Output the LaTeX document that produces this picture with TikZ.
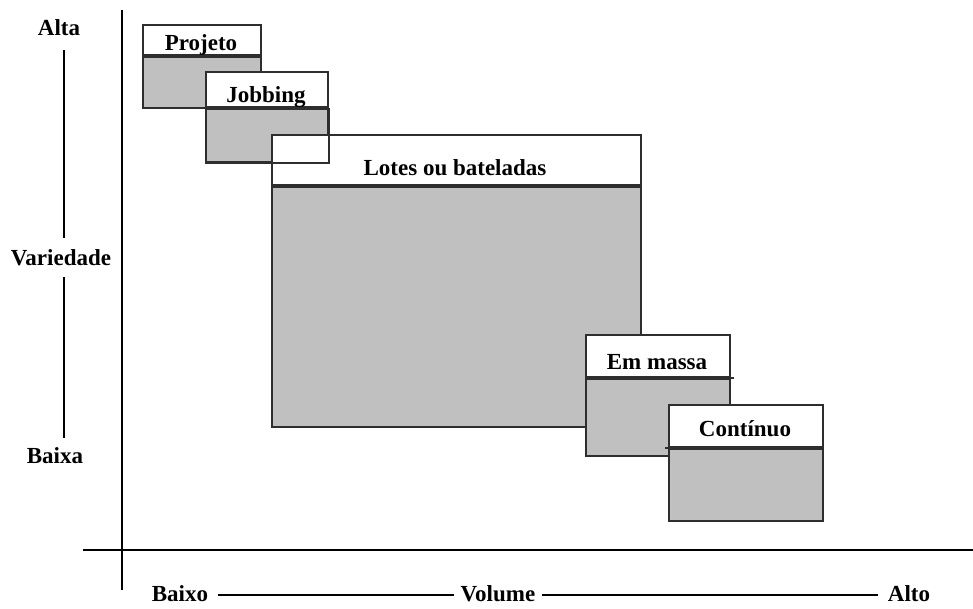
\documentclass[tikz,border=0pt]{standalone}
\usepackage{fontspec}
\setmainfont{Liberation Serif}
\definecolor{edge}{HTML}{2E2E2E}
\definecolor{boxgray}{HTML}{C0C0C0}
\begin{document}
\begin{tikzpicture}[x=1pt,y=-1pt,
  lbl/.style={font=\bfseries\fontsize{23}{26}\selectfont, inner sep=0pt, anchor=base},
  axisline/.style={line width=1.4pt, black},
  guide/.style={line width=1.2pt, black},
  hdr/.style={draw=edge, fill=white, line width=1.8pt, anchor=north west, inner sep=0pt},
  bodybox/.style={draw=edge, fill=boxgray, line width=1.8pt, anchor=north west, inner sep=0pt},
  edgeline/.style={draw=edge, line width=1.8pt}]

  % canvas
  \useasboundingbox[fill=white] (0,0) rectangle (973,608);

  % axes
  \coordinate (yTop) at (122,10);
  \coordinate (yBot) at (122,590);
  \coordinate (xL) at (83,550);
  \coordinate (xR) at (973,550);
  \draw[axisline] (yTop) -- (yBot);
  \draw[axisline] (xL) -- (xR);

  % Projeto
  \node[hdr, minimum width=118pt, minimum height=30pt] (projH) at (142,24) {};
  \node[bodybox, minimum width=118pt, minimum height=51pt] (projB) at (projH.south west) {};

  % Jobbing
  \node[hdr, minimum width=122pt, minimum height=35pt] (jobH) at (205,71) {};
  \node[bodybox, minimum width=122pt, minimum height=53pt] (jobB) at (jobH.south west) {};

  % Lotes ou bateladas
  \node[hdr, minimum width=369pt, minimum height=50pt] (lotH) at (271,134) {};
  \node[bodybox, minimum width=369pt, minimum height=240pt] (lotB) at (lotH.south west) {};
  % Jobbing outline stays visible across the Lotes header
  \draw[edgeline] (jobB.north east) -- (jobB.south east) -- (jobB.south west);

  % Em massa
  \node[hdr, minimum width=144pt, minimum height=42pt] (emH) at (585,334) {};
  \node[bodybox, minimum width=144pt, minimum height=77pt] (emB) at (emH.south west) {};
  \coordinate (emTick) at ([xshift=3pt]emH.south east);
  \draw[edgeline] (emH.south east) -- (emTick);

  % Continuo
  \node[hdr, minimum width=154pt, minimum height=42pt] (conH) at (668,404) {};
  \node[bodybox, minimum width=154pt, minimum height=72pt] (conB) at (conH.south west) {};
  \coordinate (conTick) at ([xshift=-3pt]conH.south west);
  \draw[edgeline] (conH.south west) -- (conTick);

  % box titles
  \node[lbl] (projT) at (201,50) {Projeto};
  \node[lbl] (jobT) at (266,102) {Jobbing};
  \node[lbl] (lotT) at (455,175) {Lotes ou bateladas};
  \node[lbl] (emT) at (657,369) {Em massa};
  \node[lbl] (conT) at (745,436) {Contínuo};

  % variety scale
  \node[lbl] (alta) at (59,35) {Alta};
  \node[lbl] (variedade) at (61,265) {Variedade};
  \node[lbl] (baixa) at (55,463) {Baixa};
  \coordinate (v1) at (64,50);
  \coordinate (v2) at (64,238);
  \coordinate (v3) at (64,277);
  \coordinate (v4) at (64,438);
  \draw[guide] (v1) -- (v2);
  \draw[guide] (v3) -- (v4);

  % volume scale
  \node[lbl] (baixo) at (180,601) {Baixo};
  \node[lbl] (volume) at (498,601) {Volume};
  \node[lbl] (alto) at (909,601) {Alto};
  \draw[guide] ([shift={(10pt,6pt)}]baixo.base east) -- ([shift={(-7pt,6pt)}]volume.base west);
  \draw[guide] ([shift={(7pt,6pt)}]volume.base east) -- ([shift={(-10pt,6pt)}]alto.base west);
\end{tikzpicture}
\end{document}
